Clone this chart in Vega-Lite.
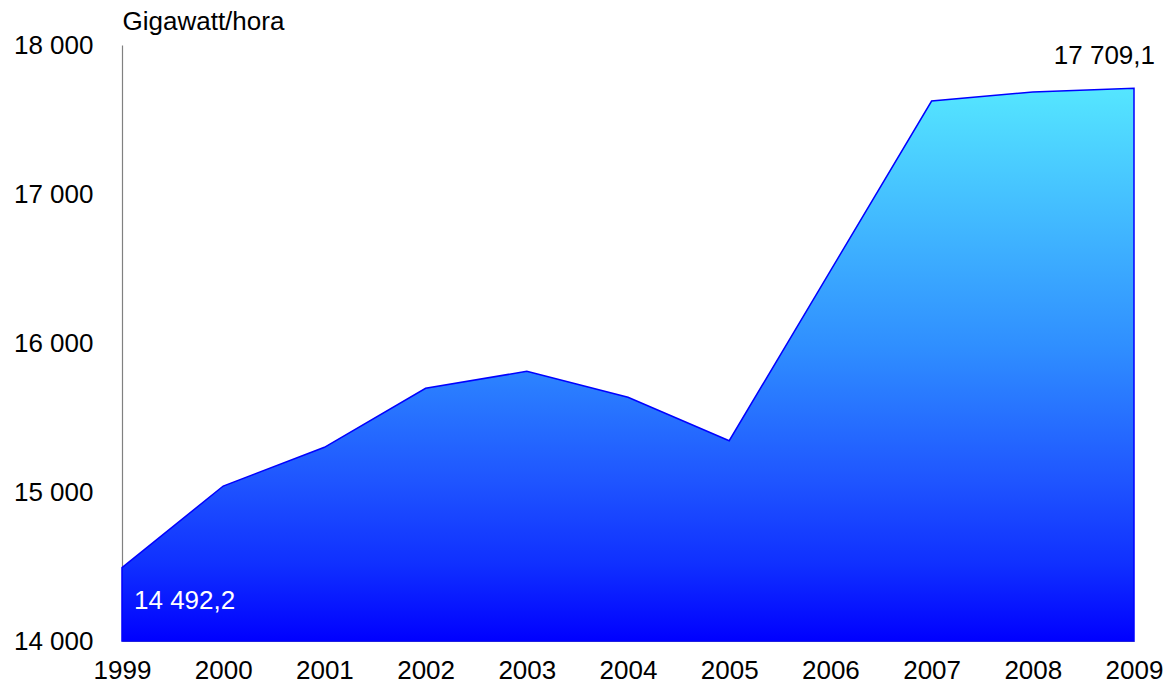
{
  "$schema": "https://vega.github.io/schema/vega-lite/v6.json",
  "width": 1012,
  "height": 596,
  "autosize": {"type": "none"},
  "padding": {"left": 122, "top": 45, "right": 29, "bottom": 42},
  "background": "white",
  "config": {
    "view": {"stroke": null},
    "font": "Liberation Sans",
    "axis": {"labelFont": "Liberation Sans", "labelFontSize": 26, "labelColor": "#000000", "grid": false, "ticks": false, "domainColor": "#808080", "domainWidth": 1.2, "zindex": 1}
  },
  "datasets": {
    "main": [
      {"year": 1999, "value": 14492.2},
      {"year": 2000, "value": 15040},
      {"year": 2001, "value": 15300},
      {"year": 2002, "value": 15696},
      {"year": 2003, "value": 15810},
      {"year": 2004, "value": 15636},
      {"year": 2005, "value": 15344},
      {"year": 2006, "value": 16484},
      {"year": 2007, "value": 17624},
      {"year": 2008, "value": 17685},
      {"year": 2009, "value": 17709.1}
    ],
    "labels": [
      {"year": 1999, "value": 14492.2, "label": "14 492,2", "pos": "start"},
      {"year": 2009, "value": 17709.1, "label": "17 709,1", "pos": "end"}
    ]
  },
  "layer": [
    {
      "data": {"name": "main"},
      "mark": {
        "type": "area",
        "opacity": 1,
        "fillOpacity": 1,
        "stroke": "#0000ff",
        "strokeWidth": 1.5,
        "color": {
          "gradient": "linear",
          "x1": 0, "y1": 1, "x2": 0, "y2": 0,
          "stops": [
            {"offset": 0, "color": "#0000ff"},
            {"offset": 0.14, "color": "#1030ff"},
            {"offset": 0.29, "color": "#1f55ff"},
            {"offset": 0.53, "color": "#2f8eff"},
            {"offset": 1, "color": "#55e6ff"}
          ]
        }
      },
      "encoding": {
        "x": {
          "field": "year", "type": "quantitative",
          "scale": {"domain": [1999, 2009], "nice": false, "zero": false},
          "axis": {"title": null, "values": [1999,2000,2001,2002,2003,2004,2005,2006,2007,2008,2009], "format": "d", "labelPadding": 16, "labelFlush": false}
        },
        "y": {
          "field": "value", "type": "quantitative",
          "scale": {"domain": [14000, 18000], "nice": false, "zero": false},
          "axis": {
            "values": [14000, 15000, 16000, 17000, 18000],
            "labelExpr": "replace(format(datum.value, ','), ',', ' ')",
            "labelPadding": 29,
            "title": "Gigawatt/hora",
            "titleAngle": 0,
            "titleX": 0,
            "titleY": -24,
            "titleAlign": "left",
            "titleBaseline": "middle",
            "titleFont": "Liberation Sans",
            "titleFontSize": 26,
            "titleFontWeight": "normal",
            "titleColor": "#000000"
          }
        },
        "y2": {"datum": 14000}
      }
    },
    {
      "data": {"name": "labels"},
      "transform": [{"filter": "datum.pos === 'start'"}],
      "mark": {"type": "text", "align": "left", "baseline": "middle", "dx": 12, "dy": 33, "fontSize": 26, "color": "#ffffff", "font": "Liberation Sans"},
      "encoding": {
        "x": {"field": "year", "type": "quantitative"},
        "y": {"field": "value", "type": "quantitative"},
        "text": {"field": "label"}
      }
    },
    {
      "data": {"name": "labels"},
      "transform": [{"filter": "datum.pos === 'end'"}],
      "mark": {"type": "text", "align": "right", "baseline": "middle", "dx": 21, "dy": -32, "fontSize": 26, "color": "#000000", "font": "Liberation Sans"},
      "encoding": {
        "x": {"field": "year", "type": "quantitative"},
        "y": {"field": "value", "type": "quantitative"},
        "text": {"field": "label"}
      }
    }
  ]
}
